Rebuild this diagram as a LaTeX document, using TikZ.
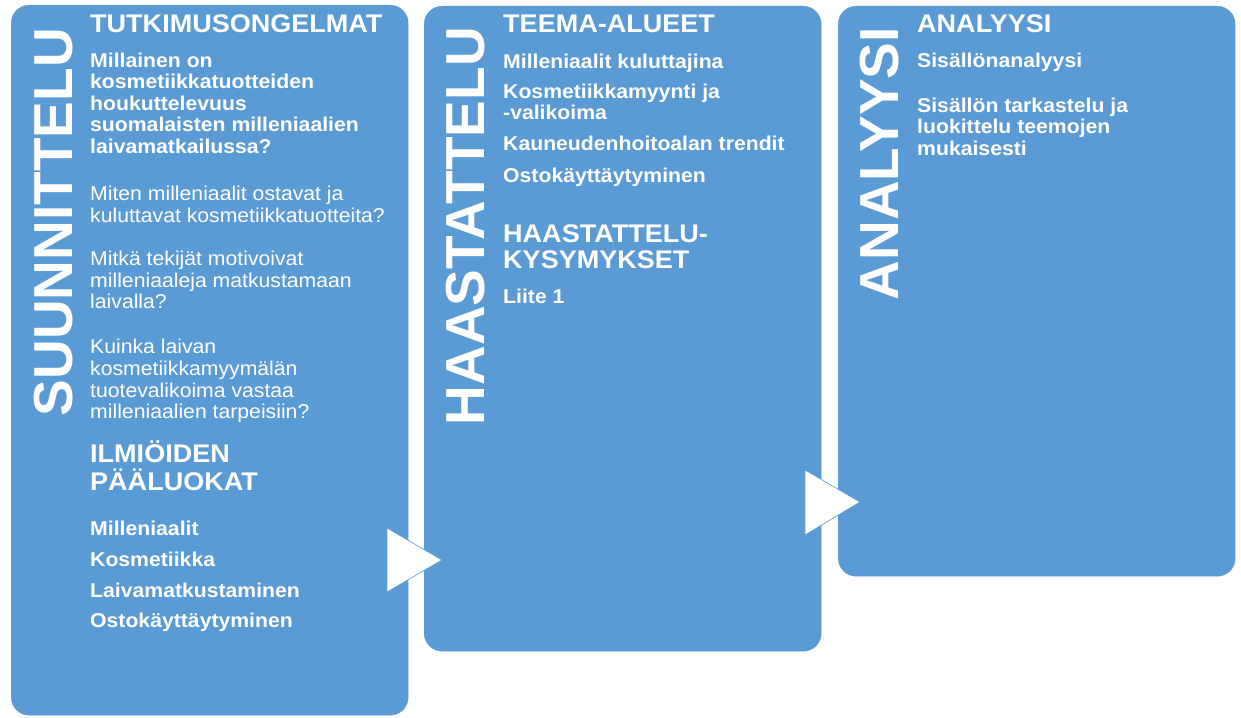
\documentclass[tikz,border=0pt]{standalone}
\usepackage{fontspec}
\setmainfont{Liberation Sans}
\newfontfamily\widesans[FakeStretch=1.06]{Liberation Sans}
\definecolor{boxblue}{HTML}{5B9BD5}

\tikzstyle{stage}=[fill=boxblue,draw=boxblue,rounded corners=18pt,inner sep=0pt,anchor=north west]
\tikzstyle{sidetitle}=[rotate=90,anchor=base east,inner sep=0pt,text=white,font=\fontsize{55}{55}\selectfont\bfseries]
\tikzstyle{heading}=[anchor=base west,inner sep=0pt,text=white,font=\widesans\fontsize{25.5}{28}\selectfont\bfseries]
\tikzstyle{item}=[anchor=base west,inner sep=0pt,text=white,font=\widesans\fontsize{20}{22}\selectfont\bfseries]
\tikzstyle{plain}=[anchor=base west,inner sep=0pt,text=white,font=\widesans\fontsize{20}{22}\selectfont]
\tikzstyle{flowtip}=[fill=white,draw=boxblue,line width=0.6pt,line join=miter]

\begin{document}
\begin{tikzpicture}[x=1pt,y=-1pt]
    \useasboundingbox (0,0) rectangle (1241,717);
    % First we draw the three stages
    \node[stage,minimum width=397pt,minimum height=710pt] (plan) at (11,5) {};
    \node[stage,minimum width=397pt,minimum height=645pt] (interview) at (424,6) {};
    \node[stage,minimum width=397pt,minimum height=570pt] (analysis) at (838,6) {};
    % Arrows between the stages
    \draw[flowtip] (387,528) -- (442,560) -- (387,592) -- cycle;
    \draw[flowtip] (805,470) -- (860,502) -- (805,535) -- cycle;
    % Vertical titles
    \node[sidetitle] (t1) at (72,28) {SUUNNITTELU};
    \node[sidetitle] (t2) at (484,27) {HAASTATTELU};
    \node[sidetitle] (t3) at (898,27) {ANALYYSI};
    % Headings
    \foreach \x/\y/\txt [count=\i] in {90/33/TUTKIMUSONGELMAT, 90/462/ILMIÖIDEN, 90/490/PÄÄLUOKAT,
        503/33/TEEMA-ALUEET, 503/242/HAASTATTELU-, 503/268/KYSYMYKSET, 917/33/ANALYYSI}
        \node[heading] (hd-\i) at (\x,\y) {\txt};
    % Bold lines
    \foreach \x/\y/\txt [count=\i] in {90/67/Millainen on, 90/88/kosmetiikkatuotteiden,
        90/110/houkuttelevuus, 90/131/suomalaisten milleniaalien, 90/153/laivamatkailussa?,
        90/535/Milleniaalit, 90/566/Kosmetiikka, 90/597/Laivamatkustaminen, 90/627/Ostokäyttäytyminen,
        503/68/Milleniaalit kuluttajina, 503/98/Kosmetiikkamyynti ja, 503/119/-valikoima,
        503/150/Kauneudenhoitoalan trendit, 503/182/Ostokäyttäytyminen, 503/303/Liite 1,
        917/67/Sisällönanalyysi, 917/112/Sisällön tarkastelu ja, 917/133/luokittelu teemojen,
        917/155/mukaisesti}
        \node[item] (it-\i) at (\x,\y) {\txt};
    % Plain questions
    \foreach \y/\txt [count=\i] in {200/Miten milleniaalit ostavat ja, 222/kuluttavat kosmetiikkatuotteita?,
        265/Mitkä tekijät motivoivat, 287/milleniaaleja matkustamaan, 308/laivalla?,
        353/Kuinka laivan, 375/kosmetiikkamyymälän, 397/tuotevalikoima vastaa,
        418/milleniaalien tarpeisiin?}
        \node[plain] (q-\i) at (90,\y) {\txt};
\end{tikzpicture}
\end{document}
